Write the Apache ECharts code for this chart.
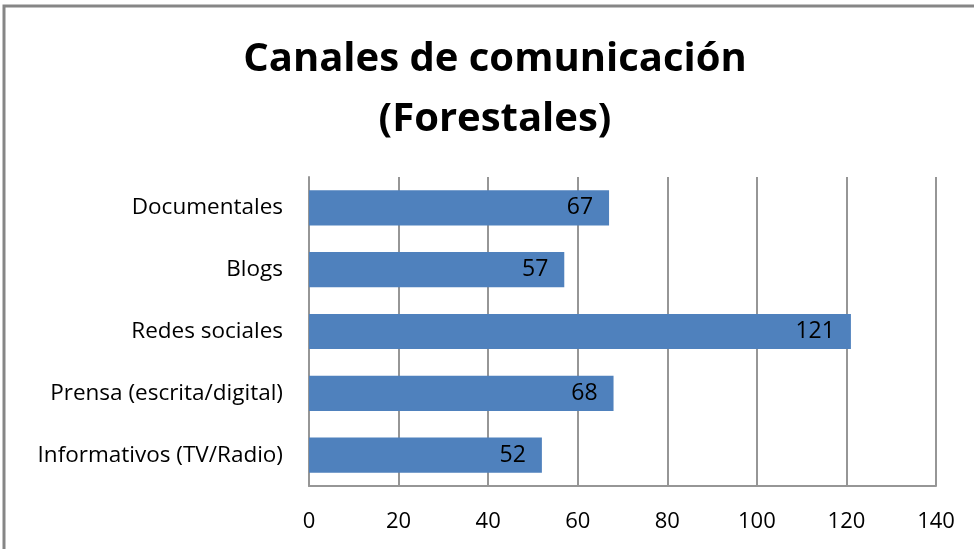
<!DOCTYPE html>
<html>
<head>
<meta charset="utf-8">
<style>
  html, body { margin: 0; padding: 0; background: #fff; }
  #chart { width: 974px; height: 549px; }
</style>
<script src="https://cdn.jsdelivr.net/npm/echarts@6/dist/echarts.min.js"></script>
</head>
<body>
<div id="chart"></div>
<script>
// datos
const categories = ["Informativos (TV/Radio)", "Prensa (escrita/digital)", "Redes sociales", "Blogs", "Documentales"];
const values = [52, 68, 121, 57, 67];
const xTicks = [0, 20, 40, 60, 80, 100, 120, 140];

const font = "'Open Sans', 'Noto Sans', sans-serif";
const chart = echarts.init(document.getElementById("chart"));

const option = {
  animation: false,
  textStyle: { fontFamily: font },
  title: {
    text: "Canales de comunicación\n(Forestales)",
    left: 490,
    textAlign: "center",
    top: 25,
    textStyle: {
      fontFamily: font,
      fontSize: 40,
      fontWeight: "bold",
      color: "#000",
      lineHeight: 60,
    },
  },
  graphic: [
    {
      type: "rect",
      shape: { x: 4, y: 6, width: 1000, height: 600 },
      style: { fill: "none", stroke: "#868686", lineWidth: 3 },
      silent: true,
    },
  ],
  grid: {
    left: 309,
    right: 38,
    top: 177,
    bottom: 63,
  },
  xAxis: {
    type: "value",
    min: xTicks[0],
    max: xTicks[xTicks.length - 1],
    interval: 20,
    axisLine: { show: true, lineStyle: { color: "#969696", width: 2 } },
    axisTick: { show: false },
    axisLabel: { fontSize: 22, color: "#000", margin: 25, fontFamily: font },
    splitLine: { show: true, lineStyle: { color: "#969696", width: 2 } },
  },
  yAxis: {
    type: "category",
    data: categories,
    axisLine: { show: true, lineStyle: { color: "#969696", width: 2 } },
    axisTick: { show: false },
    axisLabel: { fontSize: 22.5, color: "#000", margin: 26, fontFamily: font },
  },
  series: [
    {
      name: "Forestales",
      type: "bar",
      data: values,
      barWidth: "57%",
      itemStyle: { color: "#4F81BD" },
      label: {
        show: true,
        position: "insideRight",
        distance: 16,
        fontSize: 23,
        color: "#000",
        fontFamily: font,
      },
    },
  ],
};

chart.setOption(option);
window.onresize = function () {
  chart.resize();
};
</script>
</body>
</html>
